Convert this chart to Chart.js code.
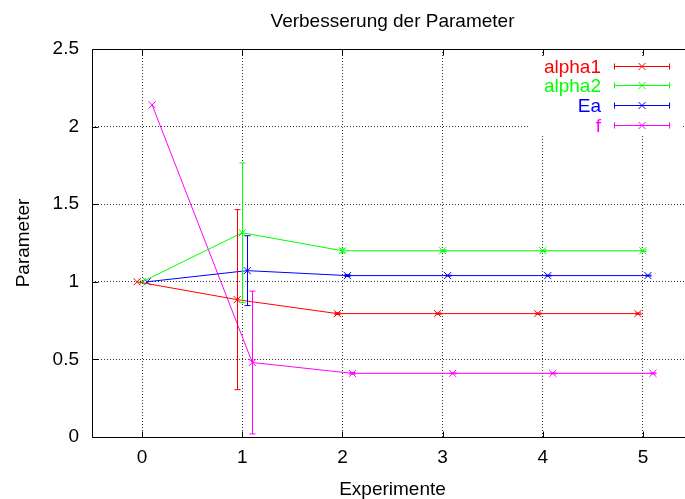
<!DOCTYPE html>
<html lang="de">
<head>
  <meta charset="UTF-8" />
  <title>Verbesserung der Parameter</title>
  <script src="https://cdn.jsdelivr.net/npm/chart.js"></script>
  <style>
    html, body { margin: 0; padding: 0; background: #fff; overflow: hidden; }
    #chart { display: block; }
  </style>
</head>
<body>
  <canvas id="chart" width="700" height="504"></canvas>

  <script>
    const experiments = [0, 1, 2, 3, 4, 5];
    const xTicks = [0, 1, 2, 3, 4, 5];
    const yTicks = [0, 0.5, 1, 1.5, 2, 2.5];

    const alpha1 = [1.0, 0.885, 0.795, 0.795, 0.795, 0.795];
    const alpha1Err = [0, 0.58, 0.006, 0.004, 0.004, 0.004];
    const alpha2 = [1.0, 1.316, 1.2, 1.2, 1.2, 1.2];
    const alpha2Err = [0, 0.45, 0.012, 0.006, 0.005, 0.005];
    const ea = [1.0, 1.072, 1.04, 1.04, 1.04, 1.04];
    const eaErr = [0, 0.225, 0.006, 0.003, 0.003, 0.003];
    const f = [2.14, 0.48, 0.41, 0.41, 0.41, 0.41];
    const fErr = [0, 0.46, 0.005, 0.003, 0.003, 0.003];

    // every series is shifted a little along x so the bars don't sit on each other
    const shiftAlpha1 = -0.05;
    const shiftAlpha2 = 0;
    const shiftEa = 0.05;
    const shiftF = 0.1;

    const FONT = "'Liberation Sans', Arial, Helvetica, sans-serif";

    function series(label, values, errs, shift, color) {
      return {
        label: label,
        data: values.map((v, i) => ({ x: experiments[i] + shift, y: v, err: errs[i] })),
        borderColor: color,
        backgroundColor: color,
        borderWidth: 1,
        showLine: true,
        fill: false,
        tension: 0,
        pointStyle: 'crossRot',
        pointRadius: 5,
        pointHoverRadius: 5,
        pointBorderWidth: 1
      };
    }

    // gnuplot style "yerrorbars": vertical bar with small caps
    const errorBars = {
      id: 'errorBars',
      afterDatasetsDraw(chart) {
        const ctx = chart.ctx;
        const xs = chart.scales.x, ys = chart.scales.y;
        chart.data.datasets.forEach((ds, di) => {
          if (!chart.isDatasetVisible(di)) return;
          ctx.save();
          ctx.strokeStyle = ds.borderColor;
          ctx.lineWidth = 1;
          ds.data.forEach(p => {
            if (!p.err) return;
            const px = Math.round(xs.getPixelForValue(p.x)) + 0.5;
            const top = ys.getPixelForValue(p.y + p.err);
            const bot = ys.getPixelForValue(p.y - p.err);
            ctx.beginPath();
            ctx.moveTo(px, top); ctx.lineTo(px, bot);
            ctx.moveTo(px - 3, top); ctx.lineTo(px + 3, top);
            ctx.moveTo(px - 3, bot); ctx.lineTo(px + 3, bot);
            ctx.stroke();
          });
          ctx.restore();
        });
      }
    };

    // key in the upper right corner, text first then the sample
    const gnuKey = {
      id: 'gnuKey',
      afterDatasetsDraw(chart) {
        const ctx = chart.ctx;
        const top = chart.chartArea.top;
        ctx.save();
        ctx.fillStyle = '#fff';
        ctx.fillRect(530, top + 7, 153, 78);
        ctx.font = '19px ' + FONT;
        ctx.textAlign = 'right';
        ctx.textBaseline = 'middle';
        ctx.lineWidth = 1;
        chart.data.datasets.forEach((ds, i) => {
          const y = Math.round(top + 16.7 + i * 19.7) + 0.5;
          ctx.fillStyle = ds.borderColor;
          ctx.strokeStyle = ds.borderColor;
          ctx.fillText(ds.label, 601, y + 1);
          ctx.beginPath();
          ctx.moveTo(614, y); ctx.lineTo(670, y);
          ctx.moveTo(614.5, y - 3); ctx.lineTo(614.5, y + 3);
          ctx.moveTo(669.5, y - 3); ctx.lineTo(669.5, y + 3);
          ctx.moveTo(638.5, y - 3.5); ctx.lineTo(645.5, y + 3.5);
          ctx.moveTo(638.5, y + 3.5); ctx.lineTo(645.5, y - 3.5);
          ctx.stroke();
        });
        ctx.restore();
      }
    };

    // plot border and the inward tick marks
    const frame = {
      id: 'frame',
      afterDraw(chart) {
        const ctx = chart.ctx;
        const a = chart.chartArea;
        const xs = chart.scales.x, ys = chart.scales.y;
        const L = Math.round(a.left) + 0.5, R = Math.round(a.right) + 0.5;
        const T = Math.round(a.top) + 0.5, B = Math.round(a.bottom) + 0.5;
        ctx.save();
        ctx.strokeStyle = '#000';
        ctx.lineWidth = 1;
        ctx.beginPath();
        ctx.rect(L, T, R - L, B - T);
        xs.ticks.forEach(t => {
          const px = Math.round(xs.getPixelForValue(t.value)) + 0.5;
          ctx.moveTo(px, B); ctx.lineTo(px, B - 6);
          ctx.moveTo(px, T); ctx.lineTo(px, T + 6);
        });
        ys.ticks.forEach(t => {
          const py = Math.round(ys.getPixelForValue(t.value)) + 0.5;
          ctx.moveTo(L, py); ctx.lineTo(L + 6, py);
          ctx.moveTo(R, py); ctx.lineTo(R - 6, py);
        });
        ctx.stroke();
        ctx.restore();
      }
    };

    const gridColor = ctx => {
      const v = ctx.tick ? ctx.tick.value : null;
      return (v === yTicks[0] || v === yTicks[yTicks.length - 1]) ? 'rgba(0,0,0,0)' : '#333';
    };

    new Chart(document.getElementById('chart'), {
      type: 'scatter',
      data: {
        datasets: [
          series('alpha1', alpha1, alpha1Err, shiftAlpha1, '#ff0000'),
          series('alpha2', alpha2, alpha2Err, shiftAlpha2, '#00ff00'),
          series('Ea', ea, eaErr, shiftEa, '#0000ff'),
          series('f', f, fErr, shiftF, '#ff00ff')
        ]
      },
      options: {
        responsive: false,
        animation: false,
        devicePixelRatio: 1,
        layout: { padding: { left: 0, right: 7, top: 0, bottom: 0 } },
        plugins: {
          legend: { display: false },
          tooltip: { enabled: false },
          title: {
            display: true,
            text: 'Verbesserung der Parameter',
            fullSize: false,
            color: '#000',
            font: { family: FONT, size: 19, weight: 'normal' },
            padding: { top: 10, bottom: 16.2 }
          }
        },
        scales: {
          x: {
            type: 'linear',
            min: -0.5,
            max: 5.5,
            afterBuildTicks: s => { s.ticks = xTicks.map(v => ({ value: v })); },
            afterFit: s => { s.height = 67; },
            grid: { color: '#333', lineWidth: 1, drawTicks: false },
            border: { display: false, dash: [1, 2] },
            ticks: { color: '#000', padding: 9, font: { family: FONT, size: 19 } },
            title: {
              display: true,
              text: 'Experimente',
              color: '#000',
              font: { family: FONT, size: 19 },
              padding: { top: 0, bottom: 3 }
            }
          },
          y: {
            type: 'linear',
            min: 0,
            max: 2.5,
            afterBuildTicks: s => { s.ticks = yTicks.map(v => ({ value: v })); },
            afterFit: s => { s.width = 92; },
            grid: { color: gridColor, lineWidth: 1, drawTicks: false },
            border: { display: false, dash: [1, 2] },
            ticks: {
              color: '#000',
              padding: 13,
              font: { family: FONT, size: 19 },
              callback: v => String(v)
            },
            title: {
              display: true,
              text: 'Parameter',
              color: '#000',
              font: { family: FONT, size: 19 },
              padding: { top: 12, bottom: 0 }
            }
          }
        }
      },
      plugins: [errorBars, gnuKey, frame]
    });
  </script>
</body>
</html>
